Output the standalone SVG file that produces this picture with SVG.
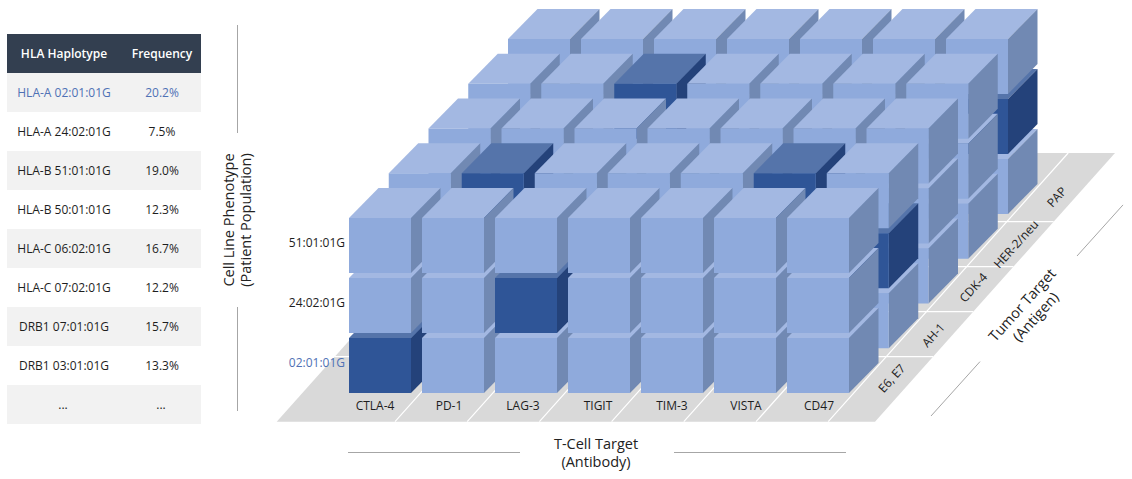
<svg xmlns="http://www.w3.org/2000/svg" xmlns:xlink="http://www.w3.org/1999/xlink" width="1132" height="479" viewBox="0 0 1132 479">
<style>
text{font-family:"Open Sans","Noto Sans","Liberation Sans",sans-serif;font-size:12px;fill:#1e1e1e;text-anchor:middle}
.hd{fill:#ffffff;font-weight:600}
.bl{fill:#4f71b5}
.ax{font-size:14.5px;fill:#222}
.lt{fill:#a3b8e2}.ls{fill:#7189b3}.lf{fill:#8faadc}
.dt{fill:#5574aa}.ds{fill:#24427a}.df{fill:#2f5597}
.gl{stroke:#ffffff;stroke-width:1.2;fill:none}
.al{stroke:#a6a6a6;stroke-width:1;fill:none}
</style>
<defs>
<g id="lc">
<path class="lt" d="M0,-55H62L91.5,-85H29.5Z"/>
<path class="ls" d="M62,0V-55L91.5,-85V-30Z"/>
<rect class="lf" x="0" y="-55" width="62" height="55"/>
</g>
<g id="dc">
<path class="dt" d="M0,-55H62L91.5,-85H29.5Z"/>
<path class="ds" d="M62,0V-55L91.5,-85V-30Z"/>
<rect class="df" x="0" y="-55" width="62" height="55"/>
</g>
</defs>
<rect width="1132" height="479" fill="#ffffff"/>

<g id="table">
<rect x="7" y="34" width="194" height="39" fill="#333f50"/>
<rect x="7" y="73" width="194" height="39" fill="#f2f2f2"/>
<rect x="7" y="151" width="194" height="39" fill="#f2f2f2"/>
<rect x="7" y="229" width="194" height="39" fill="#f2f2f2"/>
<rect x="7" y="307" width="194" height="39" fill="#f2f2f2"/>
<rect x="7" y="385" width="194" height="39" fill="#f2f2f2"/>
<text class="hd" x="64" y="57.5">HLA Haplotype</text>
<text class="hd" x="162" y="57.5">Frequency</text>
<text class="bl" x="64" y="96.5">HLA-A 02:01:01G</text><text class="bl" x="162" y="96.5">20.2%</text>
<text x="64" y="135.5">HLA-A 24:02:01G</text><text x="162" y="135.5">7.5%</text>
<text x="64" y="174.5">HLA-B 51:01:01G</text><text x="162" y="174.5">19.0%</text>
<text x="64" y="213.5">HLA-B 50:01:01G</text><text x="162" y="213.5">12.3%</text>
<text x="64" y="252.5">HLA-C 06:02:01G</text><text x="162" y="252.5">16.7%</text>
<text x="64" y="291.5">HLA-C 07:02:01G</text><text x="162" y="291.5">12.2%</text>
<text x="64" y="330.5">DRB1 07:01:01G</text><text x="162" y="330.5">15.7%</text>
<text x="64" y="369.5">DRB1 03:01:01G</text><text x="162" y="369.5">13.3%</text>
<text x="63" y="408.5">...</text><text x="161" y="408.5">...</text>
</g>

<g id="floor">
<path d="M276.7,421.7H875L1115,153H516.7Z" fill="#d9d9d9"/>
<path class="gl" d="M334.8,356.7H933.1M374.9,311.7H973.2M415.1,266.7H1013.4M455.3,221.7H1053.6"/>
<path class="gl" d="M395,421.7l240,-268.7M467.2,421.7l240,-268.7M539.4,421.7l240,-268.7M611.6,421.7l240,-268.7M683.8,421.7l240,-268.7M756,421.7l240,-268.7M828.2,421.7l240,-268.7"/>
</g>

<g id="cubes">
<g id="row-pap">
<use href="#lc" x="508" y="214"/><use href="#lc" x="581" y="214"/><use href="#lc" x="654" y="214"/><use href="#lc" x="727" y="214"/><use href="#lc" x="800" y="214"/><use href="#lc" x="873" y="214"/><use href="#lc" x="946" y="214"/>
<use href="#lc" x="508" y="154"/><use href="#lc" x="581" y="154"/><use href="#lc" x="654" y="154"/><use href="#lc" x="727" y="154"/><use href="#lc" x="800" y="154"/><use href="#lc" x="873" y="154"/><use href="#dc" x="946" y="154"/>
<use href="#lc" x="508" y="94"/><use href="#lc" x="581" y="94"/><use href="#lc" x="654" y="94"/><use href="#lc" x="727" y="94"/><use href="#lc" x="800" y="94"/><use href="#lc" x="873" y="94"/><use href="#lc" x="946" y="94"/>
</g>
<g id="row-her2">
<use href="#lc" x="468.25" y="258.75"/><use href="#lc" x="541.25" y="258.75"/><use href="#lc" x="614.25" y="258.75"/><use href="#lc" x="687.25" y="258.75"/><use href="#lc" x="760.25" y="258.75"/><use href="#lc" x="833.25" y="258.75"/><use href="#lc" x="906.25" y="258.75"/>
<use href="#lc" x="468.25" y="198.75"/><use href="#lc" x="541.25" y="198.75"/><use href="#lc" x="614.25" y="198.75"/><use href="#lc" x="687.25" y="198.75"/><use href="#lc" x="760.25" y="198.75"/><use href="#lc" x="833.25" y="198.75"/><use href="#lc" x="906.25" y="198.75"/>
<use href="#lc" x="468.25" y="138.75"/><use href="#lc" x="541.25" y="138.75"/><use href="#dc" x="614.25" y="138.75"/><use href="#lc" x="687.25" y="138.75"/><use href="#lc" x="760.25" y="138.75"/><use href="#lc" x="833.25" y="138.75"/><use href="#lc" x="906.25" y="138.75"/>
</g>
<g id="row-cdk4">
<use href="#lc" x="428.5" y="303.5"/><use href="#lc" x="501.5" y="303.5"/><use href="#lc" x="574.5" y="303.5"/><use href="#lc" x="647.5" y="303.5"/><use href="#lc" x="720.5" y="303.5"/><use href="#lc" x="793.5" y="303.5"/><use href="#lc" x="866.5" y="303.5"/>
<use href="#lc" x="428.5" y="243.5"/><use href="#lc" x="501.5" y="243.5"/><use href="#lc" x="574.5" y="243.5"/><use href="#lc" x="647.5" y="243.5"/><use href="#lc" x="720.5" y="243.5"/><use href="#lc" x="793.5" y="243.5"/><use href="#lc" x="866.5" y="243.5"/>
<use href="#lc" x="428.5" y="183.5"/><use href="#lc" x="501.5" y="183.5"/><use href="#lc" x="574.5" y="183.5"/><use href="#lc" x="647.5" y="183.5"/><use href="#lc" x="720.5" y="183.5"/><use href="#lc" x="793.5" y="183.5"/><use href="#lc" x="866.5" y="183.5"/>
</g>
<g id="row-ah1">
<use href="#lc" x="388.75" y="348.25"/><use href="#lc" x="461.75" y="348.25"/><use href="#lc" x="534.75" y="348.25"/><use href="#lc" x="607.75" y="348.25"/><use href="#lc" x="680.75" y="348.25"/><use href="#lc" x="753.75" y="348.25"/><use href="#lc" x="826.75" y="348.25"/>
<use href="#lc" x="388.75" y="288.25"/><use href="#lc" x="461.75" y="288.25"/><use href="#lc" x="534.75" y="288.25"/><use href="#lc" x="607.75" y="288.25"/><use href="#lc" x="680.75" y="288.25"/><use href="#lc" x="753.75" y="288.25"/><use href="#dc" x="826.75" y="288.25"/>
<use href="#lc" x="388.75" y="228.25"/><use href="#dc" x="461.75" y="228.25"/><use href="#lc" x="534.75" y="228.25"/><use href="#lc" x="607.75" y="228.25"/><use href="#lc" x="680.75" y="228.25"/><use href="#dc" x="753.75" y="228.25"/><use href="#lc" x="826.75" y="228.25"/>
</g>
<g id="row-e6e7">
<use href="#dc" x="349" y="393"/><use href="#lc" x="422" y="393"/><use href="#lc" x="495" y="393"/><use href="#lc" x="568" y="393"/><use href="#lc" x="641" y="393"/><use href="#lc" x="714" y="393"/><use href="#lc" x="787" y="393"/>
<use href="#lc" x="349" y="333"/><use href="#lc" x="422" y="333"/><use href="#dc" x="495" y="333"/><use href="#lc" x="568" y="333"/><use href="#lc" x="641" y="333"/><use href="#lc" x="714" y="333"/><use href="#lc" x="787" y="333"/>
<use href="#lc" x="349" y="273"/><use href="#lc" x="422" y="273"/><use href="#lc" x="495" y="273"/><use href="#lc" x="568" y="273"/><use href="#lc" x="641" y="273"/><use href="#lc" x="714" y="273"/><use href="#lc" x="787" y="273"/>
</g>
</g>

<g id="labels">
<text x="375" y="410">CTLA-4</text>
<text x="449" y="410">PD-1</text>
<text x="523" y="410">LAG-3</text>
<text x="598" y="410">TIGIT</text>
<text x="672" y="410">TIM-3</text>
<text x="746" y="410">VISTA</text>
<text x="819" y="410">CD47</text>
<text x="345" y="247" style="text-anchor:end">51:01:01G</text>
<text x="345" y="307" style="text-anchor:end">24:02:01G</text>
<text class="bl" x="345" y="367" style="text-anchor:end">02:01:01G</text>
<g transform="translate(891.7,378.3) rotate(-48)"><text y="4.3">E6, E7</text></g>
<g transform="translate(933.3,335) rotate(-48)"><text y="4.3">AH-1</text></g>
<g transform="translate(973.3,287.5) rotate(-48)"><text y="4.3">CDK-4</text></g>
<g transform="translate(1016,244) rotate(-48)"><text y="4.3">HER-2/neu</text></g>
<g transform="translate(1056.7,197) rotate(-48)"><text y="4.3">PAP</text></g>
</g>

<g id="axes">
<path class="al" d="M237.5,25V133M237.5,307V411"/>
<g transform="translate(237,220) rotate(-90)"><text class="ax" y="-3.5">Cell Line Phenotype</text><text class="ax" y="13.5">(Patient Population)</text></g>
<path class="al" d="M348,452.5H520M674,452.5H846"/>
<g transform="translate(596,453)"><text class="ax" y="-4">T-Cell Target</text><text class="ax" y="14">(Antibody)</text></g>
<path class="al" d="M931,416L980,361.6M1077,256L1123,204.9"/>
<g transform="translate(1029,311) rotate(-48)"><text class="ax" y="-4">Tumor Target</text><text class="ax" y="14">(Antigen)</text></g>
</g>
</svg>
